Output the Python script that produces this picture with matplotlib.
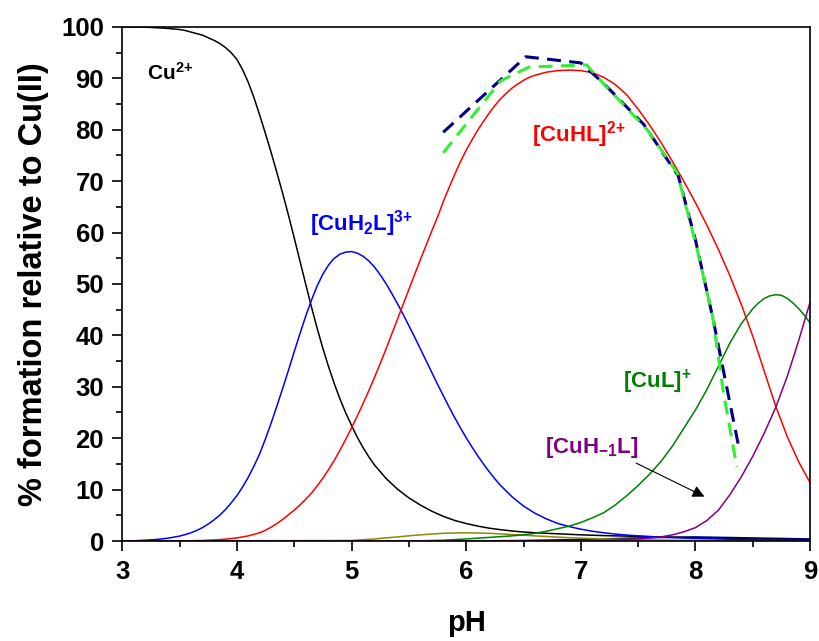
import matplotlib
matplotlib.use("Agg")
import matplotlib.pyplot as plt
from matplotlib.ticker import MultipleLocator

plt.rcParams['font.family'] = ['Liberation Sans', 'DejaVu Sans']
plt.rcParams['font.weight'] = 'bold'
plt.rcParams['mathtext.fontset'] = 'custom'
plt.rcParams['mathtext.rm'] = 'Liberation Sans:bold'
plt.rcParams['mathtext.it'] = 'Liberation Sans:bold'
plt.rcParams['mathtext.bf'] = 'Liberation Sans:bold'
plt.rcParams['lines.scale_dashes'] = False

# ---------------- data ----------------
ph_cu = [3.0, 3.2, 3.3, 3.4, 3.5, 3.55, 3.6, 3.65, 3.7, 3.75, 3.8, 3.85, 3.9, 3.95,
         4.0, 4.05, 4.1, 4.15, 4.2, 4.25, 4.3, 4.35, 4.4, 4.45, 4.5, 4.55, 4.6, 4.65,
         4.7, 4.75, 4.8, 4.85, 4.9, 4.95, 5.0, 5.05, 5.1, 5.15, 5.2, 5.3, 5.4, 5.5,
         5.6, 5.7, 5.8, 5.9, 6.0, 6.1, 6.2, 6.3, 6.4, 6.5, 6.6, 6.7, 6.8, 6.9, 7.0,
         7.2, 7.4, 7.6, 7.8, 8.0, 8.2, 8.4, 8.6, 8.8, 9.0]
cu = [100, 99.95, 99.85, 99.7, 99.5, 99.3, 99.0, 98.7, 98.4, 97.9, 97.4, 96.8, 96.0,
      95.0, 93.7, 91.7, 89.2, 86.2, 82.8, 79.2, 75.5, 71.6, 67.6, 63.4, 59.0, 54.5,
      50.0, 45.6, 41.4, 37.5, 33.9, 30.6, 27.6, 24.9, 22.5, 20.2, 18.2, 16.4, 14.8,
      12.2, 10.1, 8.4, 7.0, 5.8, 4.8, 4.0, 3.4, 2.9, 2.5, 2.2, 1.95, 1.75, 1.6, 1.5,
      1.4, 1.3, 1.2, 1.05, 0.95, 0.85, 0.75, 0.65, 0.55, 0.45, 0.35, 0.3, 0.25]

ph_h2l = [3.0, 3.1, 3.2, 3.3, 3.4, 3.5, 3.55, 3.6, 3.65, 3.7, 3.75, 3.8, 3.85, 3.9,
          3.95, 4.0, 4.05, 4.1, 4.15, 4.2, 4.25, 4.3, 4.35, 4.4, 4.45, 4.5, 4.55, 4.6,
          4.65, 4.7, 4.75, 4.8, 4.85, 4.9, 4.95, 5.0, 5.05, 5.1, 5.15, 5.2, 5.25, 5.3,
          5.35, 5.4, 5.45, 5.5, 5.55, 5.6, 5.65, 5.7, 5.75, 5.8, 5.85, 5.9, 5.95, 6.0,
          6.05, 6.1, 6.15, 6.2, 6.25, 6.3, 6.35, 6.4, 6.45, 6.5, 6.6, 6.7, 6.8, 6.9,
          7.0, 7.1, 7.2, 7.3, 7.4, 7.6, 7.8, 8.0, 8.2, 8.4, 8.6, 8.8, 9.0]
cuh2l = [0, 0.05, 0.15, 0.3, 0.55, 0.95, 1.25, 1.6, 2.05, 2.6, 3.3, 4.1, 5.0, 6.1,
         7.4, 8.8, 10.5, 12.4, 14.6, 17.0, 19.9, 23.0, 26.3, 29.7, 33.2, 36.8, 40.3,
         43.7, 46.8, 49.6, 51.9, 53.7, 55.0, 55.8, 56.2, 56.3, 56.0, 55.4, 54.5, 53.3,
         51.8, 50.1, 48.2, 46.2, 44.1, 41.9, 39.7, 37.4, 35.1, 32.8, 30.5, 28.3, 26.1,
         24.0, 22.0, 20.1, 18.3, 16.6, 15.0, 13.5, 12.1, 10.8, 9.7, 8.6, 7.7, 6.8, 5.4,
         4.3, 3.4, 2.8, 2.3, 1.9, 1.6, 1.35, 1.15, 0.85, 0.65, 0.5, 0.4, 0.3, 0.25,
         0.2, 0.15]

ph_hl = [3.0, 3.5, 3.6, 3.7, 3.8, 3.9, 4.0, 4.1, 4.2, 4.25, 4.3, 4.35, 4.4, 4.45, 4.5,
         4.55, 4.6, 4.65, 4.7, 4.75, 4.8, 4.85, 4.9, 4.95, 5.0, 5.05, 5.1, 5.15, 5.2,
         5.25, 5.3, 5.35, 5.4, 5.45, 5.5, 5.55, 5.6, 5.65, 5.7, 5.75, 5.8, 5.85, 5.9,
         5.95, 6.0, 6.05, 6.1, 6.15, 6.2, 6.25, 6.3, 6.35, 6.4, 6.45, 6.5, 6.55, 6.6,
         6.65, 6.7, 6.8, 6.9, 7.0, 7.1, 7.2, 7.3, 7.4, 7.5, 7.6, 7.7, 7.8, 7.9, 8.0,
         8.1, 8.2, 8.3, 8.4, 8.5, 8.6, 8.7, 8.8, 8.9, 9.0]
cuhl = [0, 0, 0.05, 0.1, 0.2, 0.35, 0.6, 1.0, 1.6, 2.1, 2.7, 3.4, 4.2, 5.1, 6.0, 7.0,
        8.1, 9.3, 10.7, 12.2, 13.9, 15.7, 17.7, 19.8, 22.0, 24.3, 26.7, 29.2, 31.8,
        34.5, 37.3, 40.2, 43.1, 46.0, 48.9, 51.8, 54.7, 57.5, 60.3, 63.0, 66.0, 68.7,
        71.3, 73.8, 76.0, 78.0, 79.9, 81.6, 83.2, 84.7, 86.0, 87.1, 88.1, 88.9, 89.6,
        90.2, 90.6, 90.9, 91.2, 91.5, 91.6, 91.5, 91.1, 90.2, 88.8, 86.8, 84.0, 80.9,
        77.5, 73.8, 69.9, 65.8, 61.4, 56.7, 51.6, 46.0, 39.8, 33.0, 26.2, 20.3, 15.4,
        11.3]

ph_l = [3.0, 5.5, 5.6, 5.8, 6.0, 6.2, 6.4, 6.5, 6.6, 6.7, 6.8, 6.9, 7.0, 7.1, 7.2, 7.3,
        7.4, 7.5, 7.6, 7.7, 7.8, 7.9, 8.0, 8.1, 8.2, 8.3, 8.4, 8.5, 8.55, 8.6, 8.65,
        8.7, 8.75, 8.8, 8.85, 8.9, 8.95, 9.0]
cul = [0, 0, 0.05, 0.15, 0.4, 0.7, 1.0, 1.2, 1.5, 1.9, 2.4, 2.9, 3.6, 4.5, 5.5, 7.0,
       8.8, 10.8, 13.0, 15.5, 18.5, 22, 25.5, 29.5, 34, 38.5, 42.3, 45.2, 46.3, 47.2,
       47.7, 47.9, 47.8, 47.2, 46.3, 45.2, 43.9, 42.4]

ph_hm1 = [3.0, 7.0, 7.2, 7.4, 7.5, 7.6, 7.7, 7.8, 7.9, 8.0, 8.1, 8.2, 8.3, 8.4, 8.5,
          8.6, 8.7, 8.8, 8.9, 9.0]
cuhm1l = [0, 0, 0.1, 0.25, 0.4, 0.6, 0.8, 1.2, 1.8, 2.6, 4.0, 6.0, 9.0, 12.5, 16.5,
          21, 26, 32, 39, 46.5]

ph_minor1 = [3.0, 5.0, 5.2, 5.4, 5.6, 5.8, 6.0, 6.2, 6.4, 6.6, 6.8, 7.0, 7.2, 7.4, 7.6,
             7.8, 8.0, 8.5, 9.0]
minor1 = [0, 0.1, 0.4, 0.8, 1.2, 1.5, 1.6, 1.5, 1.25, 1.0, 0.75, 0.55, 0.4, 0.3, 0.2,
          0.15, 0.1, 0.05, 0.02]

ph_minor2 = [3.0, 6.0, 6.5, 7.0, 7.5, 8.0, 8.5, 9.0]
minor2 = [0, 0, 0.1, 0.3, 0.6, 0.8, 0.6, 0.4]

ph_exp1 = [5.8, 6.52, 7.0, 7.2, 7.55, 7.85, 8.0, 8.15, 8.38]
exp1 = [79.5, 94.2, 93.0, 89.0, 81.0, 71.0, 58.5, 43.5, 18.0]

ph_exp2 = [5.8, 6.3, 6.55, 7.05, 7.25, 7.58, 7.84, 8.01, 8.15, 8.24, 8.36]
exp2 = [75.5, 89.5, 92.2, 92.6, 87.7, 80.0, 71.6, 57.2, 43.6, 29.4, 14.4]

# ---------------- figure ----------------
fig = plt.figure(figsize=(8.2, 6.41), dpi=100)
ax = fig.add_axes([0.149, 0.156, 0.839, 0.802])

lw = 1.1
ax.plot(ph_minor2, minor2, color='#000080', lw=lw)
ax.plot(ph_minor1, minor1, color='#8b8b00', lw=lw)
ax.plot(ph_cu, cu, color='black', lw=lw)
ax.plot(ph_h2l, cuh2l, color='#0000ff', lw=lw)
ax.plot(ph_hl, cuhl, color='#ff0000', lw=lw)
ax.plot(ph_l, cul, color='#007f00', lw=lw)
ax.plot(ph_hm1, cuhm1l, color='#800080', lw=lw)

ax.plot(ph_exp1, exp1, color='#000080', lw=2.2, dashes=(10, 6))
ax.plot(ph_exp2, exp2, color='#33ee33', lw=2.2, dashes=(10, 6))

ax.set_xlim(3, 9)
ax.set_ylim(0, 100)
ax.xaxis.set_major_locator(MultipleLocator(1))
ax.xaxis.set_minor_locator(MultipleLocator(0.5))
ax.yaxis.set_major_locator(MultipleLocator(10))
ax.yaxis.set_minor_locator(MultipleLocator(5))
ax.tick_params(which='major', direction='out', length=7, width=1.2, labelsize=18.5)
ax.tick_params(axis='y', which='major', pad=6)
ax.tick_params(axis='x', which='major', pad=7)
ax.tick_params(which='minor', direction='out', length=4, width=1.2)
for lab in ax.get_xticklabels() + ax.get_yticklabels():
    lab.set_fontweight('bold')
for s in ax.spines.values():
    s.set_linewidth(1.2)

ax.set_xlabel('pH', fontsize=21, fontweight='bold', labelpad=18)
ax.set_ylabel('% formation relative to Cu(II)', fontsize=23.5, fontweight='bold', labelpad=9)

ax.text(3.22, 91, r'Cu$^{2{+}}$', color='black', fontsize=15, fontweight='bold', va='center')
ax.text(4.64, 61.7, r'[CuH$_2$L]$^{3{+}}$', color='#0000ff', fontsize=16, fontweight='bold', va='center')
ax.text(6.575, 79, r'[CuHL]$^{2{+}}$', color='#ff0000', fontsize=16, fontweight='bold', va='center')
ax.text(7.37, 31, r'[CuL]$^{+}$', color='#007f00', fontsize=16, fontweight='bold', va='center')
ax.text(6.69, 18.1, r'[CuH$_{-1}$L]', color='#800080', fontsize=16, fontweight='bold', va='center')
ax.annotate('', xy=(8.1, 8.4), xytext=(7.46, 15.4),
            arrowprops=dict(arrowstyle='-|>', color='black', lw=0.8, mutation_scale=18))

fig.savefig('out.png', dpi=100)
